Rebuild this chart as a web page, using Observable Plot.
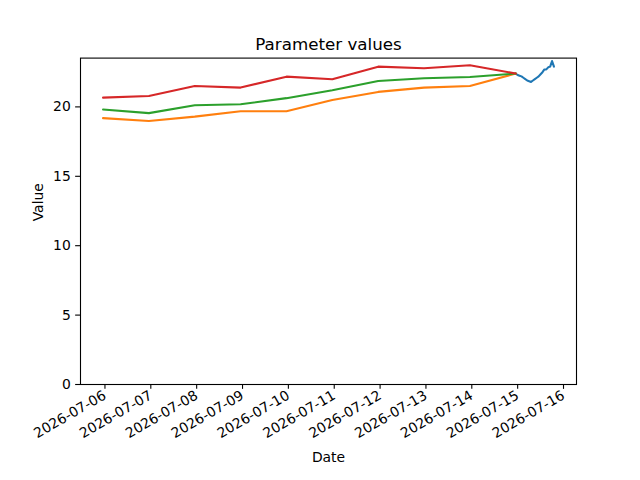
<!DOCTYPE html>
<html><head><meta charset="utf-8">
<script src="https://cdn.jsdelivr.net/npm/d3@7"></script>
<script src="https://cdn.jsdelivr.net/npm/@observablehq/plot@0.6"></script>
<style>body{margin:0;background:#fff}</style>
</head><body><div id="chart"></div>
<script>
const historyDates = ["2026-07-05T23:00Z","2026-07-06T23:00Z","2026-07-07T23:00Z","2026-07-08T23:00Z","2026-07-09T23:00Z","2026-07-10T23:00Z","2026-07-11T23:00Z","2026-07-12T23:00Z","2026-07-13T23:00Z","2026-07-14T23:00Z"];
const redValues    = [20.67, 20.79, 21.51, 21.39, 22.18, 21.99, 22.90, 22.78, 23.00, 22.40];
const greenValues  = [19.81, 19.55, 20.12, 20.19, 20.63, 21.20, 21.87, 22.06, 22.16, 22.40];
const orangeValues = [19.19, 18.99, 19.30, 19.69, 19.69, 20.50, 21.08, 21.39, 21.51, 22.40];
const blueDates = ["2026-07-14T23:00Z","2026-07-15T00:00Z","2026-07-15T01:00Z","2026-07-15T02:00Z","2026-07-15T03:00Z","2026-07-15T04:00Z","2026-07-15T05:00Z","2026-07-15T06:00Z","2026-07-15T07:00Z","2026-07-15T08:00Z","2026-07-15T09:00Z","2026-07-15T10:00Z","2026-07-15T11:00Z","2026-07-15T12:00Z","2026-07-15T13:00Z","2026-07-15T14:00Z","2026-07-15T15:00Z","2026-07-15T16:00Z","2026-07-15T17:00Z","2026-07-15T18:00Z","2026-07-15T19:00Z"];
const blueValues = [22.40, 22.30, 22.25, 22.20, 22.10, 22.00, 21.90, 21.85, 21.80, 21.90, 22.00, 22.10, 22.20, 22.35, 22.50, 22.70, 22.70, 22.85, 22.90, 23.30, 22.90];
const xTickLabels = ["2026-07-06","2026-07-07","2026-07-08","2026-07-09","2026-07-10","2026-07-11","2026-07-12","2026-07-13","2026-07-14","2026-07-15","2026-07-16"];
const yTicks = [0, 5, 10, 15, 20];
const title = "Parameter values";
const xLabel = "Date";
const yLabel = "Value";

const mk = (dates, vals) => dates.map((d, i) => ({date: new Date(d), value: vals[i]}));
const blue = mk(blueDates, blueValues);
const orange = mk(historyDates, orangeValues);
const green = mk(historyDates, greenValues);
const red = mk(historyDates, redValues);
const all = [...blue, ...orange, ...green, ...red];

const [x0, x1] = d3.extent(all, d => d.date);
const pad = (x1 - x0) * 0.05;
const xDomain = [new Date(+x0 - pad), new Date(+x1 + pad)];
const [v0, v1] = d3.extent(all, d => d.value);
const yDomain = [0, v1 + 0.05 * (v1 - v0)];
const xTicks = xTickLabels.map(s => new Date(s + "T00:00Z"));

const lw = 2.08;
const chart = Plot.plot({
  width: 640, height: 480,
  marginLeft: 80, marginRight: 64, marginTop: 57.6, marginBottom: 96,
  style: {fontFamily: "DejaVu Sans", fontSize: "13.9px", background: "#fff", color: "#000"},
  x: {type: "utc", domain: xDomain},
  y: {domain: yDomain},
  marks: [
    Plot.lineY(blue, {x: "date", y: "value", stroke: "#1f77b4", strokeWidth: lw}),
    Plot.lineY(orange, {x: "date", y: "value", stroke: "#ff7f0e", strokeWidth: lw}),
    Plot.lineY(green, {x: "date", y: "value", stroke: "#2ca02c", strokeWidth: lw}),
    Plot.lineY(red, {x: "date", y: "value", stroke: "#d62728", strokeWidth: lw}),
    Plot.frame({stroke: "#000", strokeWidth: 1.1}),
    Plot.axisY({ticks: yTicks, tickSize: 4.86, tickPadding: 4.86, label: null, fontSize: 13.9, strokeWidth: 1.1}),
    Plot.axisX({ticks: xTicks, tickFormat: d3.utcFormat("%Y-%m-%d"), tickRotate: -30, tickSize: 4.86, tickPadding: 4.86, label: null, fontSize: 13.9, strokeWidth: 1.1}),
    Plot.text([title], {text: d => d, frameAnchor: "top", dy: -20, fontSize: 16.7}),
    Plot.text([xLabel], {text: d => d, frameAnchor: "bottom", dy: 77, fontSize: 13.9}),
    Plot.text([yLabel], {text: d => d, frameAnchor: "left", dx: -42, rotate: -90, fontSize: 13.9})
  ]
});
document.getElementById("chart").appendChild(chart);
</script>
</body></html>
